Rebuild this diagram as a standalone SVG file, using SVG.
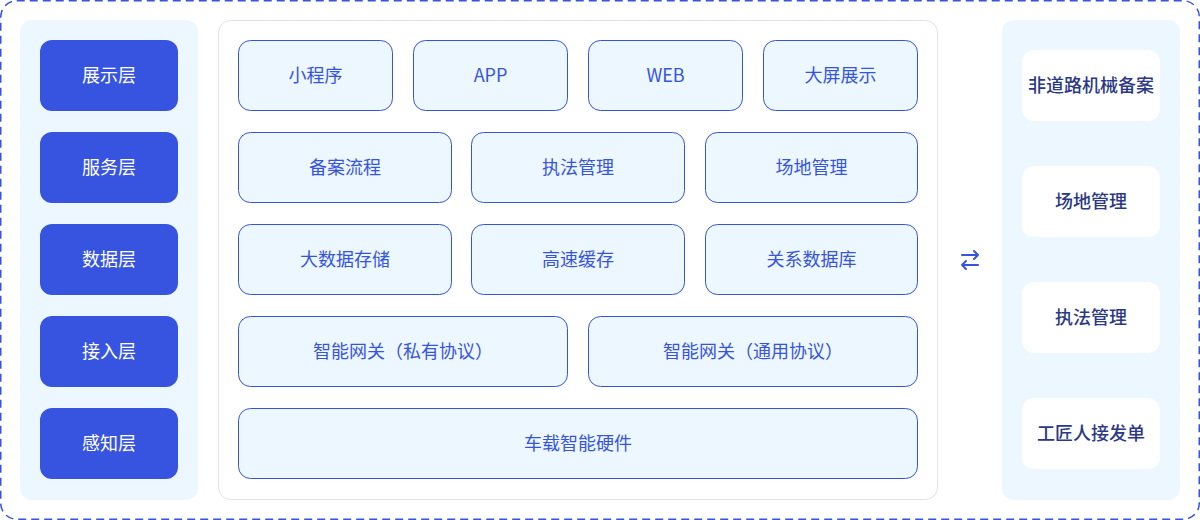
<svg xmlns="http://www.w3.org/2000/svg" width="1200" height="520" viewBox="0 0 1200 520">
<style>
.outer{fill:#fff;stroke:#3654E0;stroke-width:1.5;stroke-dasharray:8 5}
.panel{fill:#EDF7FF}
.mid{fill:#fff;stroke:#E3E3E3;stroke-width:1}
.layer{fill:#3654E0}
.box{fill:#EDF7FF;stroke:#3654E0;stroke-width:1}
.rbox{fill:#fff}
text{font-family:"Noto Sans CJK SC","Noto Sans",sans-serif;font-size:18px;text-anchor:middle;dominant-baseline:central}
.lt{fill:#fff}
.bt{fill:#3654E0}
.rt{fill:#2A3885;font-weight:500}
</style>
<rect class="outer" x="0.75" y="0.75" width="1198.5" height="518.5" rx="16"/>
<rect class="panel" x="20" y="20" width="178" height="480" rx="12"/>
<rect class="mid" x="218.5" y="20.5" width="719" height="479" rx="12"/>
<rect class="panel" x="1002" y="20" width="178" height="480" rx="12"/>
<g id="layer-display"><rect class="layer" x="40" y="40" width="138" height="71" rx="12"/><text class="lt" x="109" y="74">展示层</text></g>
<g id="layer-service"><rect class="layer" x="40" y="132" width="138" height="71" rx="12"/><text class="lt" x="109" y="166">服务层</text></g>
<g id="layer-data"><rect class="layer" x="40" y="224" width="138" height="71" rx="12"/><text class="lt" x="109" y="258">数据层</text></g>
<g id="layer-access"><rect class="layer" x="40" y="316" width="138" height="71" rx="12"/><text class="lt" x="109" y="350">接入层</text></g>
<g id="layer-sense"><rect class="layer" x="40" y="408" width="138" height="71" rx="12"/><text class="lt" x="109" y="442">感知层</text></g>
<g id="n-miniapp"><rect class="box" x="238.5" y="40.5" width="154" height="70" rx="12"/><text class="bt" x="315.5" y="74">小程序</text></g>
<g id="n-app"><rect class="box" x="413.5" y="40.5" width="154" height="70" rx="12"/><text class="bt" x="490.5" y="74">APP</text></g>
<g id="n-web"><rect class="box" x="588.5" y="40.5" width="154" height="70" rx="12"/><text class="bt" x="665.5" y="74">WEB</text></g>
<g id="n-screen"><rect class="box" x="763.5" y="40.5" width="154" height="70" rx="12"/><text class="bt" x="840.5" y="74">大屏展示</text></g>
<g id="n-filing"><rect class="box" x="238.5" y="132.5" width="213" height="70" rx="12"/><text class="bt" x="345" y="166">备案流程</text></g>
<g id="n-enforce"><rect class="box" x="471.5" y="132.5" width="213" height="70" rx="12"/><text class="bt" x="578" y="166">执法管理</text></g>
<g id="n-site"><rect class="box" x="705.5" y="132.5" width="212" height="70" rx="12"/><text class="bt" x="811.5" y="166">场地管理</text></g>
<g id="n-bigdata"><rect class="box" x="238.5" y="224.5" width="213" height="70" rx="12"/><text class="bt" x="345" y="258">大数据存储</text></g>
<g id="n-cache"><rect class="box" x="471.5" y="224.5" width="213" height="70" rx="12"/><text class="bt" x="578" y="258">高速缓存</text></g>
<g id="n-rdb"><rect class="box" x="705.5" y="224.5" width="212" height="70" rx="12"/><text class="bt" x="811.5" y="258">关系数据库</text></g>
<g id="n-gw-private"><rect class="box" x="238.5" y="316.5" width="329" height="70" rx="12"/><text class="bt" x="403" y="350">智能网关（私有协议）</text></g>
<g id="n-gw-common"><rect class="box" x="588.5" y="316.5" width="329" height="70" rx="12"/><text class="bt" x="753" y="350">智能网关（通用协议）</text></g>
<g id="n-hardware"><rect class="box" x="238.5" y="408.5" width="679" height="70" rx="12"/><text class="bt" x="578" y="442">车载智能硬件</text></g>
<g id="r-filing"><rect class="rbox" x="1022" y="50" width="138" height="71" rx="12"/><text class="rt" x="1091" y="84">非道路机械备案</text></g>
<g id="r-site"><rect class="rbox" x="1022" y="166" width="138" height="71" rx="12"/><text class="rt" x="1091" y="200">场地管理</text></g>
<g id="r-enforce"><rect class="rbox" x="1022" y="282" width="138" height="71" rx="12"/><text class="rt" x="1091" y="316">执法管理</text></g>
<g id="r-worker"><rect class="rbox" x="1022" y="398" width="138" height="71" rx="12"/><text class="rt" x="1091" y="432">工匠人接发单</text></g>
<g id="connectors" fill="none" stroke="#3654E0" stroke-width="2" stroke-linecap="round" stroke-linejoin="round">
<path d="M962 255H978M974 251L978 255L974 259"/>
<path d="M978 265H962M966 261L962 265L966 269"/>
</g>
</svg>
